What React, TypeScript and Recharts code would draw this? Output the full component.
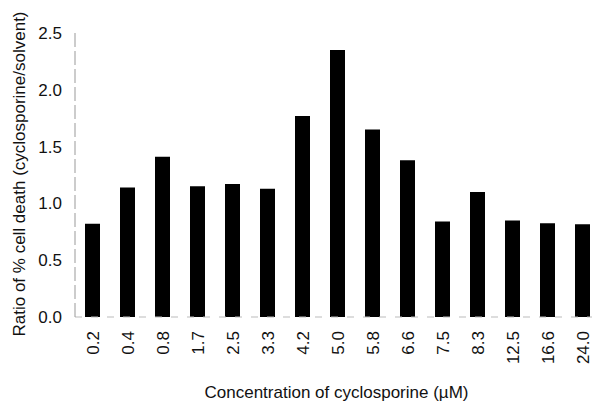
import React from 'react'
import {Bar, BarChart, XAxis, YAxis} from 'recharts'

const concentrations = ['0.2', '0.4', '0.8', '1.7', '2.5', '3.3', '4.2', '5.0', '5.8', '6.6', '7.5', '8.3', '12.5', '16.6', '24.0']
const ratios = [0.82, 1.14, 1.41, 1.15, 1.17, 1.13, 1.77, 2.35, 1.65, 1.38, 0.84, 1.1, 0.85, 0.825, 0.816]
const yTicks = [0, 0.5, 1.0, 1.5, 2.0, 2.5]

const data = concentrations.map((c, i) => ({conc: c, ratio: ratios[i]}))

const font = '"Liberation Sans", Arial, Helvetica, sans-serif'

const XTick = (props: any) => {
    const {x, payload} = props
    return (
        <text
            x={0}
            y={0}
            transform={`translate(${x + 0.8},331) rotate(-90)`}
            textAnchor='end'
            dominantBaseline='central'
            fontFamily={font}
            fontSize={17}
            fill='#111'
        >
            {payload.value}
        </text>
    )
}

const App = () => {
    return (
        <div style={{position: 'absolute', left: 0, top: 0, width: 592, height: 402, overflow: 'hidden', background: '#fff'}}>
            <BarChart width={610} height={402} data={data} margin={{top: 33, right: 10, bottom: 0, left: 0}} barSize={15}>
                <XAxis
                    dataKey='conc'
                    height={85}
                    tickLine={false}
                    interval={0}
                    axisLine={{stroke: '#bbb', strokeWidth: 1, strokeDasharray: '7 9'}}
                    tick={<XTick />}
                    label={{
                        content: (p: any) => (
                            <text x={p.viewBox.x + p.viewBox.width / 2 - 1} y={p.viewBox.y + 81} textAnchor='middle' fontFamily={font} fontSize={17} fill='#111'>
                                Concentration of cyclosporine (µM)
                            </text>
                        ),
                    }}
                />
                <YAxis
                    width={75}
                    domain={[0, 2.5]}
                    ticks={yTicks}
                    tickFormatter={(v: number) => v.toFixed(1)}
                    tickLine={false}
                    tickSize={0}
                    tickMargin={13}
                    axisLine={{stroke: '#999', strokeWidth: 1, strokeDasharray: '14 4'}}
                    tick={{fontFamily: font, fontSize: 17, fill: '#111'}}
                    label={{
                        content: (p: any) => (
                            <text
                                x={0}
                                y={0}
                                transform={`translate(19,${p.viewBox.y + p.viewBox.height / 2 - 1}) rotate(-90)`}
                                textAnchor='middle'
                                dominantBaseline='central'
                                fontFamily={font}
                                fontSize={17}
                                fill='#111'
                            >
                                Ratio of % cell death (cyclosporine/solvent)
                            </text>
                        ),
                    }}
                />
                <Bar dataKey='ratio' fill='#000' isAnimationActive={false} />
            </BarChart>
        </div>
    )
}

export default App
